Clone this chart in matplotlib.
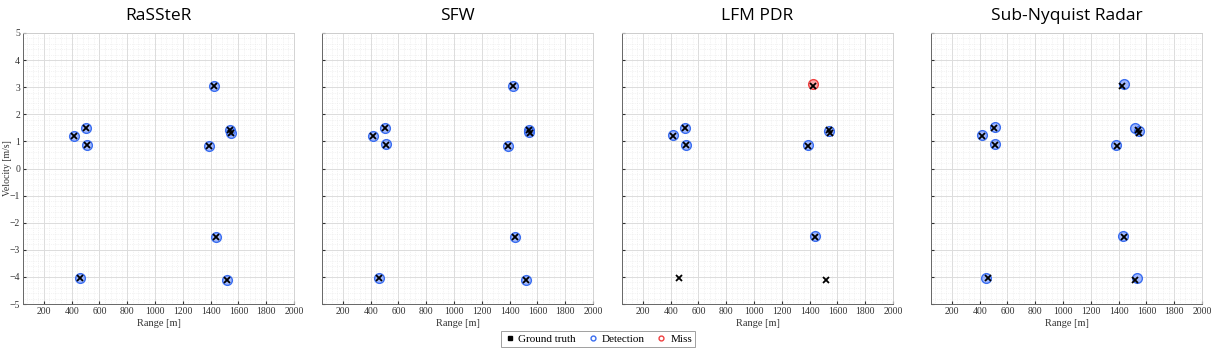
import matplotlib.pyplot as plt
import numpy as np
from matplotlib.ticker import MultipleLocator
from matplotlib.lines import Line2D

# Ground truth targets (range [m], velocity [m/s]) - same in all panels
gt_range = [420, 502, 511, 463, 1385, 1426, 1438, 1538, 1545, 1521]
gt_vel = [1.21, 1.50, 0.88, -4.05, 0.84, 3.03, -2.53, 1.43, 1.31, -4.12]

# Detections per method
rassteR_range = [420, 502, 511, 463, 1385, 1426, 1438, 1538, 1545, 1521]
rassteR_vel = [1.21, 1.50, 0.88, -4.05, 0.84, 3.03, -2.53, 1.43, 1.31, -4.12]

sfw_range = [420, 502, 511, 463, 1385, 1426, 1438, 1538, 1542, 1521]
sfw_vel = [1.21, 1.50, 0.89, -4.05, 0.84, 3.04, -2.52, 1.42, 1.35, -4.12]

lfm_range = [420, 502, 511, 1385, 1540, 1438]
lfm_vel = [1.23, 1.51, 0.88, 0.86, 1.37, -2.48]
lfm_miss_range = [1426]
lfm_miss_vel = [3.12]

subnyq_range = [420, 510, 510, 1383, 1440, 1518, 1547, 1435, 448, 1530]
subnyq_vel = [1.25, 1.52, 0.89, 0.86, 3.12, 1.48, 1.38, -2.5, -4.05, -4.05]

titles = ["RaSSteR", "SFW", "LFM PDR", "Sub-Nyquist Radar"]
det_sets = [(rassteR_range, rassteR_vel, [], []),
            (sfw_range, sfw_vel, [], []),
            (lfm_range, lfm_vel, lfm_miss_range, lfm_miss_vel),
            (subnyq_range, subnyq_vel, [], [])]

serif = "Liberation Serif"
fig = plt.figure(figsize=(12.2, 3.54), dpi=100)
lefts = [23, 322, 622, 931]

for i, (title, (dr, dv, mr, mv)) in enumerate(zip(titles, det_sets)):
    ax = fig.add_axes([lefts[i] / 1220, 50 / 354, 271 / 1220, 271 / 354])
    ax.set_xlim(50, 2000)
    ax.set_ylim(-5, 5)
    ax.xaxis.set_major_locator(MultipleLocator(200))
    ax.yaxis.set_major_locator(MultipleLocator(1))
    ax.xaxis.set_minor_locator(MultipleLocator(40))
    ax.yaxis.set_minor_locator(MultipleLocator(0.2))
    ax.grid(which="major", color="#dcdcdc", lw=0.7)
    ax.grid(which="minor", color="#e8e8e8", lw=0.5, ls=":")
    ax.set_axisbelow(True)
    ax.tick_params(which="both", direction="in", labelsize=7, length=2.5,
                   color="#555555", pad=2)
    ax.tick_params(which="minor", length=0)
    for lbl in ax.get_xticklabels() + ax.get_yticklabels():
        lbl.set_family(serif)
    for s in ["top", "right"]:
        ax.spines[s].set_color("#cccccc")
        ax.spines[s].set_linewidth(0.6)
    for s in ["left", "bottom"]:
        ax.spines[s].set_color("#666666")
        ax.spines[s].set_linewidth(0.7)
    ax.set_xlabel("Range [m]", family=serif, fontsize=7.5, color="#333333", labelpad=2)
    if i == 0:
        ax.set_ylabel("Velocity [m/s]", family=serif, fontsize=7, color="#333333")
        ax.yaxis.set_label_coords(-0.042, 0.5)
    else:
        ax.set_yticklabels([])
    ax.tick_params(colors="#333333")

    ax.plot(dr, dv, "o", ms=7, mfc=(0.4, 0.55, 1.0, 0.6), mec="#3a6df0",
            mew=1.0, ls="none")
    if mr:
        ax.plot(mr, mv, "o", ms=7, mfc=(1.0, 0.45, 0.45, 0.6), mec="#f04040",
                mew=1.0, ls="none")
    ax.plot(gt_range, gt_vel, "x", ms=4, color="black", mew=1.3, ls="none")

    ax.set_title(title, family="Open Sans", fontsize=12.5, pad=9)

handles = [Line2D([], [], marker="s", ms=2.5, color="black", ls="none"),
           Line2D([], [], marker="o", ms=3.5, mfc="none", mec="#3a6df0", mew=1, ls="none"),
           Line2D([], [], marker="o", ms=3.5, mfc="none", mec="#f04040", mew=1, ls="none")]
leg = fig.legend(handles, ["Ground truth", "Detection", "Miss"], loc="center",
                 bbox_to_anchor=(598 / 1220, 1 - 339 / 354), ncol=3,
                 prop={"family": serif, "size": 8}, frameon=True, fancybox=False,
                 handletextpad=0.3, columnspacing=1.0, borderpad=0.3, handlelength=1)
leg.get_frame().set_edgecolor("#888888")
leg.get_frame().set_linewidth(0.7)

fig.savefig("out.png", dpi=100)
